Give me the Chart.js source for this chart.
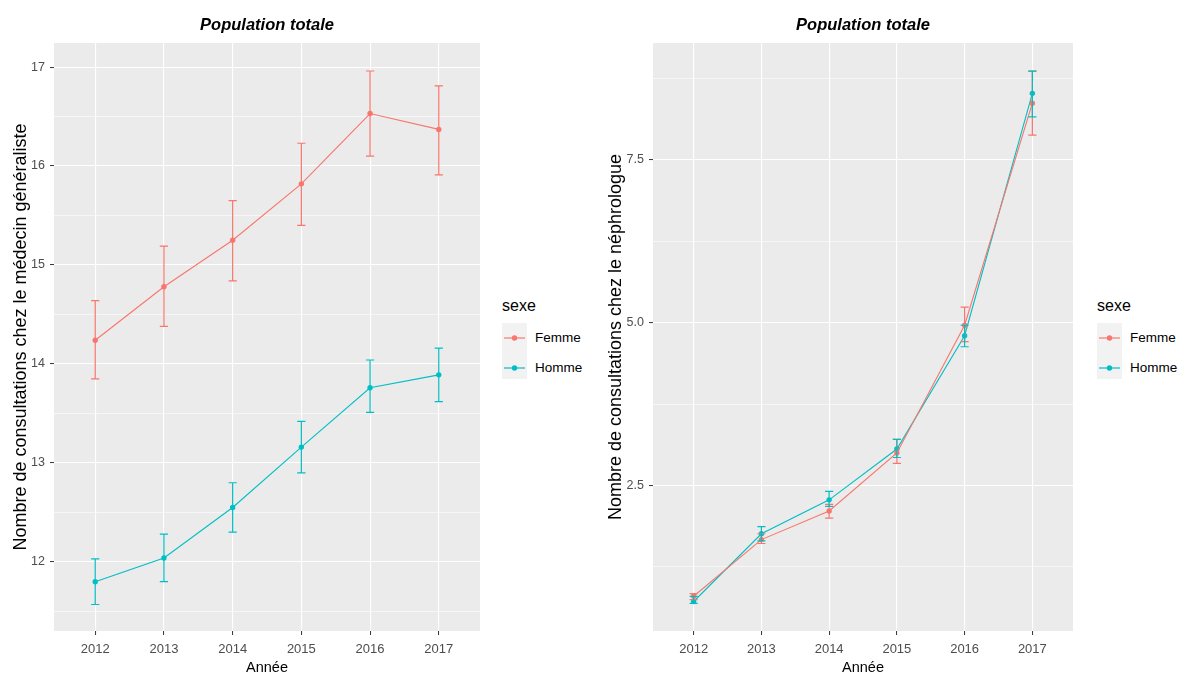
<!DOCTYPE html>
<html>
<head>
<meta charset="utf-8">
<script src="https://cdn.jsdelivr.net/npm/chart.js@4.4.1/dist/chart.umd.min.js"></script>
<style>
  body { margin: 0; background: #fff; font-family: "Liberation Sans", Arial, sans-serif; }
  #wrap { position: relative; width: 1179px; height: 677px; overflow: hidden; }
  .panel { position: absolute; top: 0; height: 677px; }
  .legend { position: absolute; color: #000; }
  .legend .ttl { position: absolute; left: 0; top: -26px; font-size: 16px; white-space: nowrap; }
  .legend .keys { position: absolute; left: 0; top: 0; width: 25px; height: 56px; background: #F2F2F2; }
  .legend .lab { position: absolute; left: 33px; font-size: 13.5px; line-height: 16px; white-space: nowrap; }
</style>
</head>
<body>
<div id="wrap">
  <div class="panel" style="left:0;width:490px"><canvas id="gp"></canvas></div>
  <div class="panel" style="left:590px;width:493px"><canvas id="neph"></canvas></div>
  <div class="legend" id="leg1" style="left:502px;top:323px"></div>
  <div class="legend" id="leg2" style="left:1097px;top:323px"></div>
</div>
<script>
// data
const years = [2012, 2013, 2014, 2015, 2016, 2017];
const sexes = ["Femme", "Homme"];

// médecin généraliste
const gpFemme     = [14.24, 14.78, 15.25, 15.82, 16.53, 16.37];
const gpFemmeLow  = [13.85, 14.38, 14.84, 15.40, 16.10, 15.91];
const gpFemmeHigh = [14.64, 15.19, 15.65, 16.23, 16.96, 16.81];
const gpHomme     = [11.80, 12.04, 12.55, 13.16, 13.76, 13.89];
const gpHommeLow  = [11.57, 11.80, 12.30, 12.90, 13.51, 13.62];
const gpHommeHigh = [12.03, 12.28, 12.80, 13.42, 14.04, 14.16];
const gpMajor = [12, 13, 14, 15, 16, 17];
const gpMinor = [11.5, 12.5, 13.5, 14.5, 15.5, 16.5];

// néphrologue
const nephFemme     = [0.80, 1.67, 2.11, 3.00, 4.96, 8.37];
const nephFemmeLow  = [0.75, 1.61, 2.00, 2.84, 4.71, 7.88];
const nephFemmeHigh = [0.84, 1.76, 2.21, 3.21, 5.24, 8.86];
const nephHomme     = [0.72, 1.76, 2.28, 3.06, 4.80, 8.52];
const nephHommeLow  = [0.69, 1.65, 2.18, 2.93, 4.63, 8.16];
const nephHommeHigh = [0.80, 1.87, 2.41, 3.21, 4.96, 8.86];
const nephMajor = [2.5, 5.0, 7.5];
const nephMinor = [1.25, 3.75, 6.25, 8.75];

const COLORS = { Femme: "#F8766D", Homme: "#00BFC4" };
const FONT = '"Liberation Sans", Arial, sans-serif';

Chart.defaults.font.family = FONT;
Chart.defaults.color = "#4D4D4D";

// grey panel behind the grid
const panelBg = {
  id: "panelBg",
  beforeDraw(chart) {
    const a = chart.chartArea, ctx = chart.ctx;
    ctx.save();
    ctx.fillStyle = "#EBEBEB";
    ctx.fillRect(a.left, a.top, a.right - a.left, a.bottom - a.top);
    ctx.restore();
  }
};

// ggplot-like error bars, positioned through the chart scales
const errorBars = {
  id: "errorBars",
  afterDatasetsDraw(chart) {
    const ctx = chart.ctx, x = chart.scales.x, y = chart.scales.y;
    chart.data.datasets.forEach(ds => {
      ctx.save();
      ctx.strokeStyle = ds.borderColor;
      ctx.lineWidth = 1.2;
      ds.data.forEach((p, i) => {
        const px = x.getPixelForValue(p.x);
        const half = (x.getPixelForValue(p.x + 0.06) - px);
        const top = y.getPixelForValue(ds.high[i]);
        const bot = y.getPixelForValue(ds.low[i]);
        ctx.beginPath();
        ctx.moveTo(px, top); ctx.lineTo(px, bot);
        ctx.moveTo(px - half, top); ctx.lineTo(px + half, top);
        ctx.moveTo(px - half, bot); ctx.lineTo(px + half, bot);
        ctx.stroke();
      });
      ctx.restore();
    });
  }
};

function series(label, vals, low, high) {
  return {
    label: label,
    data: years.map((yr, i) => ({ x: yr, y: vals[i] })),
    low: low, high: high,
    borderColor: COLORS[label],
    backgroundColor: COLORS[label],
    borderWidth: 1.1,
    pointRadius: 2.7,
    pointBorderWidth: 0,
    pointBackgroundColor: COLORS[label],
    tension: 0
  };
}

function makeChart(id, o) {
  const isMajor = v => o.major.some(m => Math.abs(m - v) < 1e-6);
  return new Chart(document.getElementById(id), {
    type: "line",
    data: { datasets: o.datasets },
    options: {
      responsive: true, maintainAspectRatio: false, animation: false,
      layout: { padding: { left: 0, right: 10, top: 0, bottom: 0 } },
      plugins: {
        legend: { display: false },
        tooltip: { enabled: false },
        title: {
          display: true, text: "Population totale", color: "#000", fullSize: false,
          font: { size: 16.5, weight: "bold", style: "italic" },
          padding: { top: 15.6, bottom: 7.6 }
        }
      },
      scales: {
        x: {
          type: "linear", min: 2011.4, max: 2017.6,
          afterBuildTicks: s => { s.ticks = years.map(v => ({ value: v })); },
          afterFit: s => { s.height = 46; },
          border: { display: false },
          grid: { color: "#FFFFFF", lineWidth: 1.1, tickColor: "#333333", tickLength: 4, tickWidth: 1 },
          ticks: { callback: v => String(v), font: { size: 13 }, color: "#4D4D4D", padding: 7, maxRotation: 0 },
          title: { display: true, text: "Année", color: "#000", font: { size: 14.5 }, padding: { top: 0, bottom: 0 } }
        },
        y: {
          type: "linear", min: o.min, max: o.max,
          afterBuildTicks: s => { s.ticks = o.major.concat(o.minor).sort((a, b) => a - b).map(v => ({ value: v })); },
          afterFit: s => { s.width = o.axisWidth; },
          border: { display: false },
          grid: {
            color: "#FFFFFF",
            lineWidth: c => isMajor(c.tick.value) ? 1.1 : 0.55,
            tickColor: c => isMajor(c.tick.value) ? "#333333" : "rgba(0,0,0,0)",
            tickLength: 4, tickWidth: 1
          },
          ticks: {
            callback: v => isMajor(v) ? o.fmt(v) : "",
            font: { size: 12.5 }, color: "#4D4D4D", padding: 5
          },
          title: { display: true, text: o.yTitle, color: "#000", font: { size: 18 }, padding: { top: o.titlePad, bottom: 0 } }
        }
      }
    },
    plugins: [panelBg, errorBars]
  });
}

makeChart("gp", {
  datasets: [series("Femme", gpFemme, gpFemmeLow, gpFemmeHigh), series("Homme", gpHomme, gpHommeLow, gpHommeHigh)],
  min: 11.302, max: 17.243, major: gpMajor, minor: gpMinor,
  fmt: v => String(v), axisWidth: 54, titlePad: 10.2,
  yTitle: "Nombre de consultations chez le médecin généraliste"
});

makeChart("neph", {
  datasets: [series("Femme", nephFemme, nephFemmeLow, nephFemmeHigh), series("Homme", nephHomme, nephHommeLow, nephHommeHigh)],
  min: 0.267, max: 9.293, major: nephMajor, minor: nephMinor,
  fmt: v => v.toFixed(1), axisWidth: 63, titlePad: 15.2,
  yTitle: "Nombre de consultations chez le néphrologue"
});

// legends (ggplot style, to the right of each panel)
function legend(id) {
  const el = document.getElementById(id);
  let html = '<div class="ttl">sexe</div><div class="keys"><svg width="25" height="56">';
  sexes.forEach((s, i) => {
    const cy = 15 + i * 30;
    html += '<line x1="2" x2="23" y1="' + cy + '" y2="' + cy + '" stroke="' + COLORS[s] + '" stroke-width="1.2"/>';
    html += '<circle cx="12.5" cy="' + cy + '" r="2.7" fill="' + COLORS[s] + '"/>';
  });
  html += '</svg></div>';
  sexes.forEach((s, i) => {
    html += '<div class="lab" style="top:' + (7 + i * 30) + 'px">' + s + '</div>';
  });
  el.innerHTML = html;
}
legend("leg1");
legend("leg2");
</script>
</body>
</html>
